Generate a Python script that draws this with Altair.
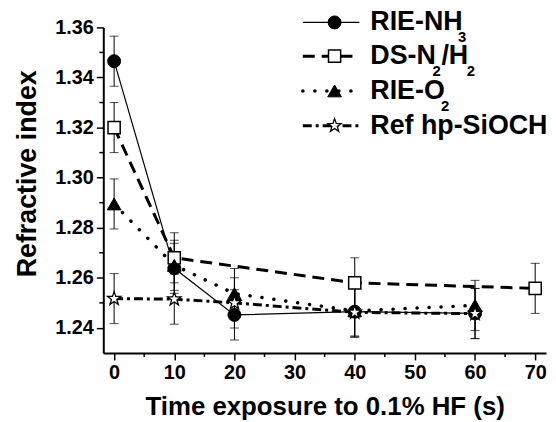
import altair as alt
import pandas as pd

# ---------------- data ----------------
time_nh3 = [0, 10, 20, 40, 60]
ri_nh3 = [1.3465, 1.2638, 1.2452, 1.2465, 1.2458]
time_ds = [0, 10, 40, 70]
ri_ds = [1.3200, 1.2680, 1.2580, 1.2558]
time_o2 = [0, 10, 20, 40, 60]
ri_o2 = [1.2895, 1.2650, 1.2537, 1.2468, 1.2490]
time_ref = [0, 10, 20, 40, 60]
ri_ref = [1.2517, 1.2515, 1.2500, 1.2462, 1.2457]
err = 0.010

x_ticks = [0, 10, 20, 30, 40, 50, 60, 70]
x_minor = [5, 15, 25, 35, 45, 55, 65]
y_ticks = [1.24, 1.26, 1.28, 1.30, 1.32, 1.34, 1.36]
y_minor = [1.25, 1.27, 1.29, 1.31, 1.33, 1.35]

x_title = "Time exposure to 0.1% HF (s)"
y_title = "Refractive index"

# legend label pieces: (text, is_subscript)
legend_labels = [
    [("RIE-NH", False), ("3", True)],
    [("DS-N", False), ("2", True), ("/H", False), ("2", True)],
    [("RIE-O", False), ("2", True)],
    [("Ref hp-SiOCH", False)],
]

FONT = "Liberation Sans"
W, H = 446, 328

STAR = ("M0,-1L0.235,-0.324L0.951,-0.309L0.380,0.124L0.588,0.809L0,0.4"
        "L-0.588,0.809L-0.380,0.124L-0.951,-0.309L-0.235,-0.324Z")

xs = alt.Scale(domain=[-1.8, 71.8], nice=False, zero=False)
ys = alt.Scale(domain=[1.23, 1.36], nice=False, zero=False)

x_axis = alt.Axis(values=x_ticks, title=x_title, format="d", titlePadding=11,
                  titleFontSize=26)
y_axis = alt.Axis(values=y_ticks, title=y_title, format=".2f", titlePadding=13,
                  titleY=147, titleFontSize=27)


def frame(ts, vs):
    return pd.DataFrame({
        "t": ts,
        "v": vs,
        "lo": [v - err for v in vs],
        "hi": [v + err for v in vs],
    })


def X(field="t"):
    return alt.X(f"{field}:Q", scale=xs, axis=x_axis)


def Y(field="v"):
    return alt.Y(f"{field}:Q", scale=ys, axis=y_axis)


series = [
    # data, line style, marker
    (frame(time_nh3, ri_nh3), dict(strokeWidth=1.2),
     dict(shape="circle", size=170, filled=True, fill="black", stroke="black", strokeWidth=1)),
    (frame(time_ds, ri_ds), dict(strokeWidth=3, strokeDash=[12, 7]),
     dict(shape="square", size=150, filled=True, fill="white", stroke="black", strokeWidth=1.5)),
    (frame(time_o2, ri_o2), dict(strokeWidth=3.5, strokeDash=[0.1, 12], strokeCap="round"),
     dict(shape="triangle-up", size=190, filled=True, fill="black", stroke="black", strokeWidth=1)),
    (frame(time_ref, ri_ref), dict(strokeWidth=3, strokeDash=[9, 4, 3, 4]),
     dict(shape=STAR, size=200, filled=True, fill="white", stroke="black", strokeWidth=1.3)),
]

layers = []
# lines
for df, lstyle, _ in series:
    layers.append(alt.Chart(df).mark_line(color="black", **lstyle).encode(x=X(), y=Y()))
# error bars
for df, _, _ in series:
    layers.append(alt.Chart(df).mark_rule(color="black", strokeWidth=1).encode(
        x=X(), y=Y("lo"), y2="hi:Q"))
    for f in ["lo", "hi"]:
        layers.append(alt.Chart(df).mark_tick(color="black", thickness=1, size=9,
                                              orient="horizontal").encode(x=X(), y=Y(f)))
# markers
for df, _, mstyle in series:
    layers.append(alt.Chart(df).mark_point(opacity=1, **mstyle).encode(x=X(), y=Y()))

# minor ticks
layers.append(alt.Chart(pd.DataFrame({"m": x_minor})).mark_rule(
    color="black", strokeWidth=1.5).encode(x=X("m"), y=alt.value(H), y2=alt.value(H + 4)))
layers.append(alt.Chart(pd.DataFrame({"m": y_minor})).mark_rule(
    color="black", strokeWidth=1.5).encode(y=Y("m"), x=alt.value(-4), x2=alt.value(0)))

# ---------------- legend ----------------
CW = {"R": .722, "I": .278, "E": .667, "-": .333, "N": .722, "H": .722, "D": .722,
      "S": .667, "/": .278, "O": .778, "e": .556, "f": .333, " ": .278, "h": .611,
      "p": .611, "i": .278, "C": .722}
MAIN_FS, SUB_FS = 27, 15
leg_y = [-5, 29, 64, 99]
line_x0, line_x1, sym_x, text_x = 201, 258, 233, 269

for i, (df, lstyle, mstyle) in enumerate(series):
    yc = leg_y[i]
    one = pd.DataFrame({"k": [i]})
    layers.append(alt.Chart(one).mark_rule(color="black", **lstyle).encode(
        x=alt.value(line_x0), x2=alt.value(line_x1), y=alt.value(yc)))
    ms = dict(mstyle)
    layers.append(alt.Chart(one).mark_point(opacity=1, **ms).encode(
        x=alt.value(sym_x), y=alt.value(yc)))
    xpos = text_x
    for txt, sub in legend_labels[i]:
        fs = SUB_FS if sub else MAIN_FS
        layers.append(alt.Chart(pd.DataFrame({"s": [txt]})).mark_text(
            align="left", baseline="middle", font=FONT, fontWeight="bold",
            fontSize=fs, color="black").encode(
            text="s:N", x=alt.value(xpos), y=alt.value(yc + (15 if sub else 0))))
        xpos += sum(CW.get(c, .556) for c in txt) * fs * 0.95 + (1 if sub else 0)

chart = alt.layer(*layers).properties(
    width=W, height=H,
    autosize=alt.AutoSizeParams(type="none"),
    padding={"left": 96, "top": 18, "right": 2, "bottom": 66},
).configure_view(stroke=None).configure_axis(
    grid=False, domainColor="black", domainWidth=2, tickColor="black", tickWidth=1.5,
    tickSize=7, labelFont=FONT, labelFontWeight="bold", labelFontSize=20,
    labelColor="black", labelPadding=3, titleFont=FONT, titleFontWeight="bold",
    titleColor="black",
)

chart.save("out.html", embed_options={"renderer": "svg", "actions": False})
